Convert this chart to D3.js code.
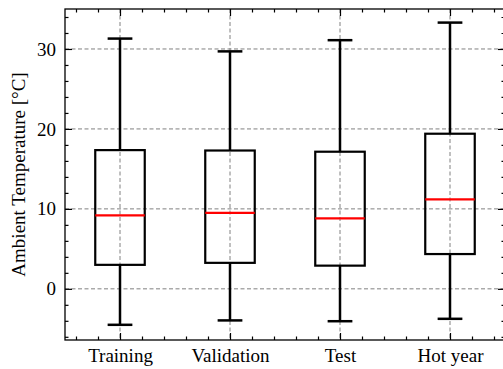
<!DOCTYPE html>
<html><head><meta charset="utf-8">
<script src="https://cdn.jsdelivr.net/npm/d3@7"></script>
<style>html,body{margin:0;padding:0;background:#fff;overflow:hidden}</style>
</head><body>
<svg id="c" width="503" height="369"></svg>
<script>
const categories = ["Training", "Validation", "Test", "Hot year"];
const whiskerLow = [-4.5, -3.95, -4.05, -3.75];
const q1 = [3.0, 3.25, 2.9, 4.35];
const median = [9.2, 9.5, 8.8, 11.2];
const q3 = [17.35, 17.3, 17.15, 19.4];
const whiskerHigh = [31.3, 29.7, 31.1, 33.3];
const yTicks = [0, 10, 20, 30];
const yLabel = "Ambient Temperature [°C]";

const svg = d3.select("#c");
const L = 65, R = 505, T = 9, B = 340;
const x = d3.scaleLinear().domain([0.5, 4.5]).range([L, R]);
const y = d3.scaleLinear().domain([-6.4, 35]).range([B, T]);
const font = "'Liberation Serif','Times New Roman',serif";
const fs = 19;

const data = categories.map((c, i) => ({c, pos: i + 1, lo: whiskerLow[i], q1: q1[i], med: median[i], q3: q3[i], hi: whiskerHigh[i]}));

// grid
const grid = svg.append("g").attr("stroke", "#808080").attr("stroke-width", 1).attr("stroke-dasharray", "4,2.5");
grid.selectAll("line.h").data(yTicks).join("line").attr("class", "h")
  .attr("x1", L).attr("x2", R).attr("y1", d => y(d)).attr("y2", d => y(d));
grid.selectAll("line.v").data(data).join("line").attr("class", "v")
  .attr("y1", T).attr("y2", B).attr("x1", d => x(d.pos)).attr("x2", d => x(d.pos));

// axes with inward ticks
const yMinor = d3.range(-6, 35, 2).filter(v => !yTicks.includes(v));
const xMinor = d3.range(0.6, 4.45, 0.2).filter(v => Math.abs(v - Math.round(v)) > 1e-6);
const mk = (ax, ticks, size) => ax.tickValues(ticks).tickSize(size).tickFormat("");
function styleAxis(g) { g.select(".domain").remove(); g.selectAll("line").attr("stroke", "#000").attr("stroke-width", 1.2); }

svg.append("g").attr("transform", `translate(${L},0)`).call(mk(d3.axisRight(y), yMinor, 3.5)).call(styleAxis);
svg.append("g").attr("transform", `translate(${L},0)`).call(mk(d3.axisRight(y), yTicks, 7)).call(styleAxis);
svg.append("g").attr("transform", `translate(${R},0)`).call(mk(d3.axisLeft(y), yMinor, 3.5)).call(styleAxis);
svg.append("g").attr("transform", `translate(${R},0)`).call(mk(d3.axisLeft(y), yTicks, 7)).call(styleAxis);
svg.append("g").attr("transform", `translate(0,${B})`).call(mk(d3.axisTop(x), xMinor, 3.5)).call(styleAxis);
svg.append("g").attr("transform", `translate(0,${B})`).call(mk(d3.axisTop(x), data.map(d => d.pos), 7)).call(styleAxis);
svg.append("g").attr("transform", `translate(0,${T})`).call(mk(d3.axisBottom(x), xMinor, 3.5)).call(styleAxis);
svg.append("g").attr("transform", `translate(0,${T})`).call(mk(d3.axisBottom(x), data.map(d => d.pos), 7)).call(styleAxis);

// tick labels
const yl = svg.append("g").attr("transform", `translate(${L},0)`)
  .call(d3.axisLeft(y).tickValues(yTicks).tickSize(0).tickPadding(9).tickFormat(d3.format("d")));
yl.select(".domain").remove();
yl.selectAll("text").attr("font-family", font).attr("font-size", fs).attr("fill", "#000");
const xl = svg.append("g").attr("transform", `translate(0,${B})`)
  .call(d3.axisBottom(x).tickValues(data.map(d => d.pos)).tickSize(0).tickPadding(9).tickFormat((d, i) => categories[i]));
xl.select(".domain").remove();
xl.selectAll("text").attr("font-family", font).attr("font-size", fs).attr("fill", "#000");

// boxes
const bw = 0.45, cw = 0.225;
const g = svg.append("g");
const b = g.selectAll("g.box").data(data).join("g").attr("class", "box");
b.append("line").attr("x1", d => x(d.pos)).attr("x2", d => x(d.pos)).attr("y1", d => y(d.q3)).attr("y2", d => y(d.hi)).attr("stroke", "#000").attr("stroke-width", 2.5);
b.append("line").attr("x1", d => x(d.pos)).attr("x2", d => x(d.pos)).attr("y1", d => y(d.q1)).attr("y2", d => y(d.lo)).attr("stroke", "#000").attr("stroke-width", 2.5);
b.append("line").attr("x1", d => x(d.pos - cw / 2)).attr("x2", d => x(d.pos + cw / 2)).attr("y1", d => y(d.hi)).attr("y2", d => y(d.hi)).attr("stroke", "#000").attr("stroke-width", 2.5);
b.append("line").attr("x1", d => x(d.pos - cw / 2)).attr("x2", d => x(d.pos + cw / 2)).attr("y1", d => y(d.lo)).attr("y2", d => y(d.lo)).attr("stroke", "#000").attr("stroke-width", 2.5);
b.append("rect").attr("x", d => x(d.pos - bw / 2)).attr("width", d => x(d.pos + bw / 2) - x(d.pos - bw / 2))
  .attr("y", d => y(d.q3)).attr("height", d => y(d.q1) - y(d.q3)).attr("fill", "none").attr("stroke", "#000").attr("stroke-width", 2.2);
b.append("line").attr("x1", d => x(d.pos - bw / 2)).attr("x2", d => x(d.pos + bw / 2)).attr("y1", d => y(d.med)).attr("y2", d => y(d.med)).attr("stroke", "#ff0000").attr("stroke-width", 2.2);

// frame
svg.append("rect").attr("x", L).attr("y", T).attr("width", R - L).attr("height", B - T).attr("fill", "none").attr("stroke", "#000").attr("stroke-width", 1.3);

// y label
svg.append("text").attr("transform", `translate(25,${(T + B) / 2}) rotate(-90)`).attr("text-anchor", "middle")
  .attr("font-family", font).attr("font-size", fs).attr("fill", "#000").text(yLabel);
</script>
</body></html>
